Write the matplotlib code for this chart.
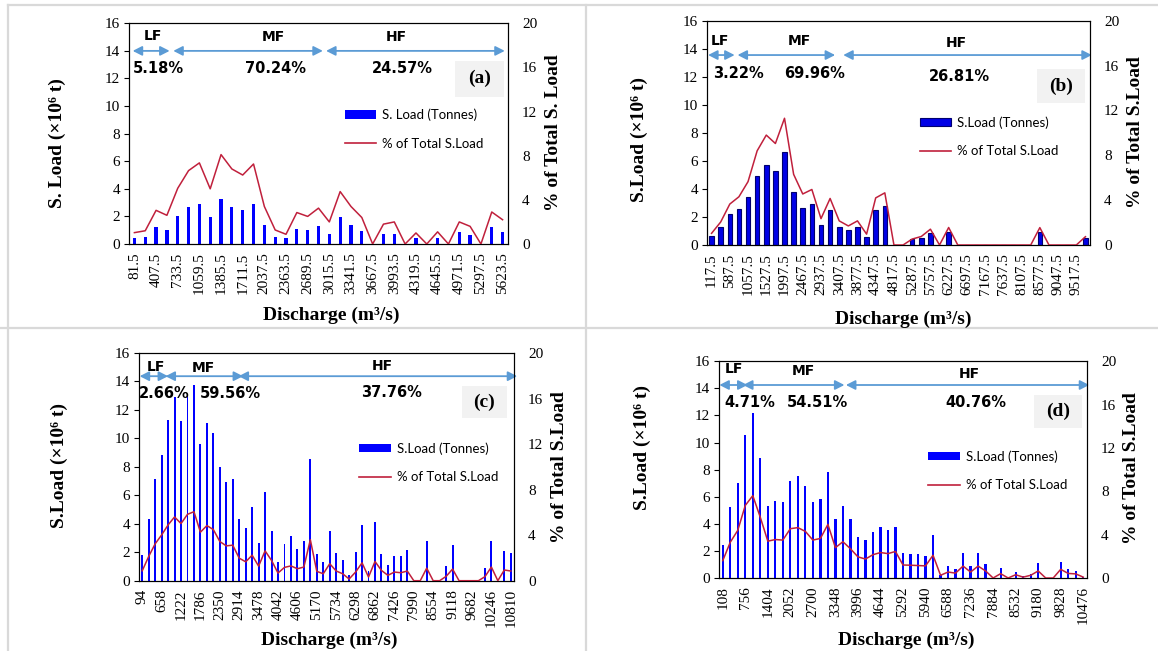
import matplotlib
matplotlib.use('Agg')
import matplotlib.pyplot as plt
from matplotlib.patches import Rectangle, Patch
from matplotlib.lines import Line2D

W, H, DPI = 1158, 651, 100

# ---------------- data ----------------
a_load = [0.4, 0.5, 1.2, 1.0, 2.0, 2.65, 2.9, 1.95, 3.25, 2.7, 2.5, 2.9, 1.4, 0.5, 0.4,
          1.1, 1.0, 1.28, 0.75, 1.95, 1.38, 0.95, 0, 0.75, 0.75, 0, 0.4, 0, 0.4, 0,
          0.85, 0.65, 0, 1.2, 0.85]
a_pct = [1.03, 1.2, 3.05, 2.6, 5.05, 6.65, 7.35, 5.0, 8.1, 6.8, 6.25, 7.25, 3.4, 1.27, 0.88,
         2.85, 2.5, 3.25, 2.0, 4.75, 3.4, 2.4, 0, 1.8, 2.0, 0, 1.0, 0, 1.1, 0,
         2.0, 1.6, 0, 2.9, 2.2]
a_ticklabels = ["81.5", "407.5", "733.5", "1059.5", "1385.5", "1711.5", "2037.5", "2363.5",
                "2689.5", "3015.5", "3341.5", "3667.5", "3993.5", "4319.5", "4645.5",
                "4971.5", "5297.5", "5623.5"]
a_shares = ["5.18%", "70.24%", "24.57%"]

b_load = [0.62, 1.3, 2.2, 2.55, 3.45, 4.95, 5.7, 5.3, 6.65, 3.75, 2.65, 2.9, 1.4, 2.5, 1.25,
          1.05, 1.28, 0.6, 2.52, 2.8, 0, 0, 0.42, 0.49, 0.85, 0, 0.95, 0, 0, 0,
          0, 0, 0, 0, 0, 0, 0.96, 0, 0, 0, 0, 0.5]
b_pct = [1.04, 2.05, 3.65, 4.3, 5.65, 8.4, 9.8, 9.05, 11.3, 6.3, 4.55, 4.95, 2.35, 4.15, 2.15,
         1.7, 2.15, 0.97, 4.2, 4.65, 0, 0, 0.53, 0.76, 1.41, 0, 1.56, 0, 0, 0,
         0, 0, 0, 0, 0, 0, 1.55, 0, 0, 0, 0, 0.74]
b_ticklabels = ["117.5", "587.5", "1057.5", "1527.5", "1997.5", "2467.5", "2937.5", "3407.5",
                "3877.5", "4347.5", "4817.5", "5287.5", "5757.5", "6227.5", "6697.5",
                "7167.5", "7637.5", "8107.5", "8577.5", "9047.5", "9517.5"]
b_shares = ["3.22%", "69.96%", "26.81%"]

c_load = [1.78, 4.35, 7.17, 8.86, 11.26, 12.9, 11.2, 13.15, 13.74, 9.6, 11.07, 10.37, 7.97,
          6.94, 7.17, 4.37, 3.67, 5.16, 2.62, 6.21, 3.5, 1.33, 2.55, 3.12, 2.26, 2.77, 8.53,
          1.91, 1.3, 3.47, 1.92, 1.44, 0.4, 2.0, 3.94, 0.68, 4.09, 1.91, 1.1, 1.74, 1.74,
          2.14, 0, 0, 2.77, 0, 0, 1.0, 2.52, 0, 0, 0, 0, 0.9, 2.8, 0, 2.1, 1.95]
c_pct = [0.87, 2.13, 3.24, 4.02, 4.9, 5.6, 5.02, 5.83, 6.06, 4.26, 4.84, 4.49, 3.44,
         3.06, 3.12, 1.98, 1.66, 2.24, 1.28, 2.62, 1.78, 0.67, 1.17, 1.3, 1.05, 1.2, 3.6,
         0.82, 0.61, 1.49, 0.85, 0.61, 0.15, 0.76, 1.57, 0.32, 1.69, 0.9, 0.47, 0.76, 0.7,
         0.85, 0, 0, 1.1, 0, 0, 0.38, 1.02, 0, 0, 0, 0, 0.35, 1.2, 0, 0.94, 0.85]
c_ticklabels = ["94", "658", "1222", "1786", "2350", "2914", "3478", "4042", "4606", "5170",
                "5734", "6298", "6862", "7426", "7990", "8554", "9118", "9682", "10246",
                "10810"]
c_shares = ["2.66%", "59.56%", "37.76%"]

d_load = [2.4, 5.24, 7.04, 10.56, 12.2, 8.83, 5.29, 5.66, 5.6, 7.14, 7.5, 6.77, 5.6, 5.8,
          7.86, 4.32, 5.29, 4.32, 3.06, 2.79, 3.42, 3.76, 3.52, 3.76, 1.87, 1.8, 1.77, 1.65,
          3.18, 0.25, 0.9, 0.66, 1.82, 0.85, 1.82, 1.02, 0, 0.73, 0, 0.46, 0.12, 0.3, 1.09,
          0, 0, 1.2, 0.65, 0.55, 0.1]
d_pct = [1.6, 3.3, 4.4, 6.7, 7.6, 5.6, 3.4, 3.55, 3.5, 4.55, 4.65, 4.3, 3.5, 3.65,
         4.95, 2.8, 3.35, 2.7, 1.95, 1.75, 2.15, 2.35, 2.25, 2.45, 1.2, 1.18, 1.15, 1.12,
         2.1, 0.25, 0.55, 0.45, 1.1, 0.55, 1.1, 0.65, 0, 0.4, 0, 0.3, 0.08, 0.25, 0.65,
         0, 0, 0.8, 0.42, 0.38, 0.08]
d_ticklabels = ["108", "756", "1404", "2052", "2700", "3348", "3996", "4644", "5292", "5940",
                "6588", "7236", "7884", "8532", "9180", "9828", "10476"]
d_shares = ["4.71%", "54.51%", "40.76%"]

flow_classes = ["LF", "MF", "HF"]
panel_tags = ["(a)", "(b)", "(c)", "(d)"]

# ---------------- style ----------------
SERIF = ['Liberation Serif', 'DejaVu Serif']
SANS = ['DejaVu Sans']
LEGF = ['Lato', 'DejaVu Sans']
BLUE = '#0000FF'
RED = '#C0203C'
ARROW = '#5B9BD5'
GRID = '#D9D9D9'

fig = plt.figure(figsize=(W / DPI, H / DPI), dpi=DPI)


def fx(x):
    return x / W


def fy(y):
    return 1 - y / H


def panel(box, load, pct, ticklabels, step, barw, face, edge, shares, cfg,
          left_label, right_label, leg_label, ylab_l, ylab_r, xlab, tag):
    x1, y1, x2, y2 = box
    ax = fig.add_axes([fx(x1), fy(y2), (x2 - x1) / W, (y2 - y1) / H])
    n = len(load)
    xs = list(range(n))
    ax.bar(xs, load, width=barw, color=face, edgecolor=edge,
           linewidth=0.8 if edge != 'none' else 0, zorder=2)
    ax.set_xlim(-0.5, n - 0.5)
    ax.set_ylim(0, 16)
    ax.set_yticks(range(0, 17, 2))
    ax.set_xticks(range(0, n, step))
    ax.set_xticklabels(ticklabels, rotation=90, family=SERIF, fontsize=11)
    ax.tick_params(axis='x', length=0, pad=6)
    ax.tick_params(axis='y', length=3.5, width=0.8, pad=3, labelsize=11)
    for t in ax.get_yticklabels():
        t.set_family(SERIF)
    for s in ax.spines.values():
        s.set_linewidth(0.8)
        s.set_color('black')

    ax2 = ax.twinx()
    ax2.plot(xs, pct, color=RED, lw=1.1, zorder=3)
    ax2.set_ylim(0, 20)
    ax2.set_yticks(range(0, 21, 4))
    ax2.tick_params(axis='y', length=0, pad=10, labelsize=11)
    for t in ax2.get_yticklabels():
        t.set_family(SERIF)
    for s in ax2.spines.values():
        s.set_linewidth(0.8)

    # flow-class arrows and texts
    ay = cfg['arrow_y']
    for (xa, xb) in cfg['arrows']:
        ax.annotate('', xy=(xb, ay), xytext=(xa, ay),
                    arrowprops=dict(arrowstyle='<|-|>,head_length=0.55,head_width=0.28',
                                    color=ARROW, lw=1.3, shrinkA=0, shrinkB=0),
                    annotation_clip=False, zorder=4)
    for name, (tx, ty) in zip(flow_classes, cfg['names']):
        ax.text(tx, ty, name, family=SANS, weight='bold', fontsize=10,
                ha='center', va='center', zorder=5)
    for share, (tx, ty) in zip(shares, cfg['shares']):
        ax.text(tx, ty, share, family=SANS, weight='bold', fontsize=10.5,
                ha='center', va='center', zorder=5)
    bx1, by1, bx2, by2 = cfg['tagbox']
    ax.add_patch(Rectangle((bx1, by2), bx2 - bx1, by1 - by2, facecolor='#F2F2F2',
                           edgecolor='none', zorder=1))
    ax.text((bx1 + bx2) / 2, (by1 + by2) / 2, tag, family=SERIF, weight='bold',
            fontsize=14, ha='center', va='center', zorder=5)

    handles = [Patch(facecolor=face, edgecolor=edge, linewidth=0.8, label=leg_label),
               Line2D([], [], color=RED, lw=1.2, label='% of Total S.Load')]
    leg = ax2.legend(handles=handles, loc='upper left', bbox_to_anchor=cfg['legend'],
                     frameon=False, borderpad=0, borderaxespad=0, handlelength=2.4,
                     handleheight=0.6, handletextpad=0.45, labelspacing=1.25,
                     prop={'family': LEGF, 'size': 9.5})

    # axis titles as figure text (pixel-placed)
    lx, ly = ylab_l
    fig.text(fx(lx), fy(ly), left_label, rotation=90, family=SERIF, weight='bold',
             fontsize=14, ha='center', va='center')
    rx, ry = ylab_r
    fig.text(fx(rx), fy(ry), right_label, rotation=90, family=SERIF, weight='bold',
             fontsize=14, ha='center', va='center')
    dx, dy = xlab
    fig.text(fx(dx), fy(dy), 'Discharge (m³/s)', family=SERIF, weight='bold',
             fontsize=14, ha='center', va='center')
    return ax, ax2


cfg_a = dict(arrow_y=14.0, arrows=[(-0.16, 3.25), (3.59, 17.4), (17.7, 34.2)],
             names=[(1.7, 15.07), (12.8, 15.0), (24.2, 15.0)],
             shares=[(2.2, 12.73), (13.05, 12.73), (24.7, 12.73)],
             tagbox=(29.63, 13.29, 34.16, 10.68), legend=(0.569, 0.613))
cfg_b = dict(arrow_y=13.55, arrows=[(-0.38, 2.53), (2.85, 13.55), (14.44, 41.7)],
             names=[(0.9, 14.57), (9.6, 14.57), (26.8, 14.43)],
             shares=[(3.0, 12.2), (11.25, 12.2), (27.2, 12.05)],
             tagbox=(35.65, 12.53, 40.98, 10.1), legend=(0.555, 0.575))
cfg_c = dict(arrow_y=14.37, arrows=[(-0.4, 4.0), (3.6, 15.6), (14.9, 58.0)],
             names=[(2.1, 15.0), (9.5, 14.95), (37.1, 15.1)],
             shares=[(3.4, 13.16), (13.6, 13.16), (38.6, 13.2)],
             tagbox=(49.4, 13.7, 56.4, 11.4), legend=(0.587, 0.609))
cfg_d = dict(arrow_y=14.25, arrows=[(-0.45, 3.3), (2.7, 16.2), (16.4, 48.8)],
             names=[(1.5, 15.4), (10.7, 15.3), (32.8, 15.04)],
             shares=[(3.6, 12.98), (12.6, 12.98), (33.65, 12.95)],
             tagbox=(41.47, 13.52, 47.9, 11.06), legend=(0.569, 0.59))

panel((129, 23.3, 508, 244), a_load, a_pct, a_ticklabels, 2, 0.3, BLUE, 'none', a_shares,
      cfg_a, 'S. Load (×10⁶ t)', '% of Total S. Load', 'S. Load (Tonnes)',
      (57, 143), (553, 132.5), (331, 315), panel_tags[0])
panel((707, 20.7, 1090, 245), b_load, b_pct, b_ticklabels, 2, 0.5, '#0000E6', '#00006E',
      b_shares, cfg_b, 'S.Load (×10⁶ t)', '% of Total S.Load', 'S.Load (Tonnes)',
      (639, 139), (1136, 131.7), (903, 319), panel_tags[1])
panel((139, 353, 514, 580.7), c_load, c_pct, c_ticklabels, 3, 0.3, BLUE, 'none', c_shares,
      cfg_c, 'S.Load (×10⁶ t)', '% of Total S.Load', 'S.Load (Tonnes)',
      (59, 465), (560, 466.7), (329.5, 640), panel_tags[2])
panel((719, 361.3, 1087, 578), d_load, d_pct, d_ticklabels, 3, 0.3, BLUE, 'none', d_shares,
      cfg_d, 'S.Load (×10⁶ t)', '% of Total S.Load', 'S.Load (Tonnes)',
      (642, 447.5), (1132, 468), (906, 640), panel_tags[3])

# table-like separator lines
for (xa, ya, xb, yb) in [(8, 5, W, 5), (0, 328, W, 328), (8, 5, 8, H), (586, 5, 586, H)]:
    fig.add_artist(Line2D([fx(xa), fx(xb)], [fy(ya), fy(yb)], color=GRID, lw=1.6))

fig.savefig('out.png', dpi=DPI)
